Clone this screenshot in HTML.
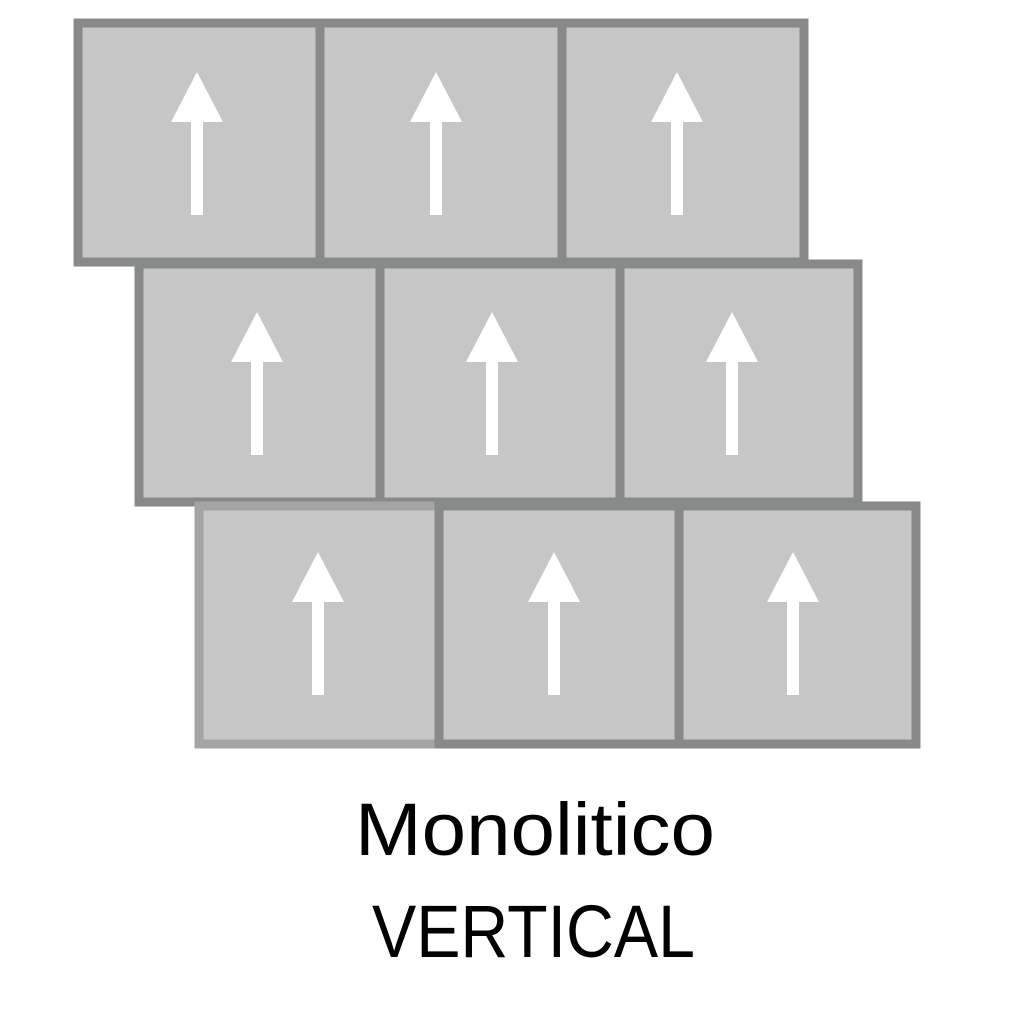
<!DOCTYPE html>
<html><head><meta charset="utf-8"><style>html,body{margin:0;padding:0;background:#fff;}svg{display:block}</style></head>
<body>
<svg width="1024" height="1024" viewBox="0 0 1024 1024" xmlns="http://www.w3.org/2000/svg">
<defs>
<g id="ar"><polygon points="0,-125 -26,-75 26,-75" fill="#fff"/><rect x="-6" y="-76" width="12" height="94" fill="#fff"/></g>
</defs>
<g fill="#c5c6c5" stroke="#888a89" stroke-width="9">
<rect x="78" y="23" width="242" height="239"/>
<rect x="320" y="23" width="242" height="239"/>
<rect x="562" y="23" width="242" height="239"/>
<rect x="139" y="264" width="241" height="238"/>
<rect x="380" y="264" width="240" height="238"/>
<rect x="620" y="264" width="238" height="238"/>
<rect x="199" y="506" width="240" height="238" stroke="#a3a4a3"/>
<rect x="439" y="506" width="240" height="238"/>
<rect x="679" y="506" width="237" height="238"/>
</g>
<use href="#ar" x="197" y="197"/>
<use href="#ar" x="436" y="197"/>
<use href="#ar" x="677" y="197"/>
<use href="#ar" x="257" y="437"/>
<use href="#ar" x="492" y="437"/>
<use href="#ar" x="732" y="437"/>
<use href="#ar" x="318" y="677"/>
<use href="#ar" x="554" y="677"/>
<use href="#ar" x="793" y="677"/>
<g font-family="Liberation Sans, sans-serif" font-size="74" fill="#000">
<text x="355" y="855" textLength="360" lengthAdjust="spacingAndGlyphs">Monolitico</text>
<text x="372" y="957" textLength="323" lengthAdjust="spacingAndGlyphs">VERTICAL</text>
</g>
</svg>
</body></html>
